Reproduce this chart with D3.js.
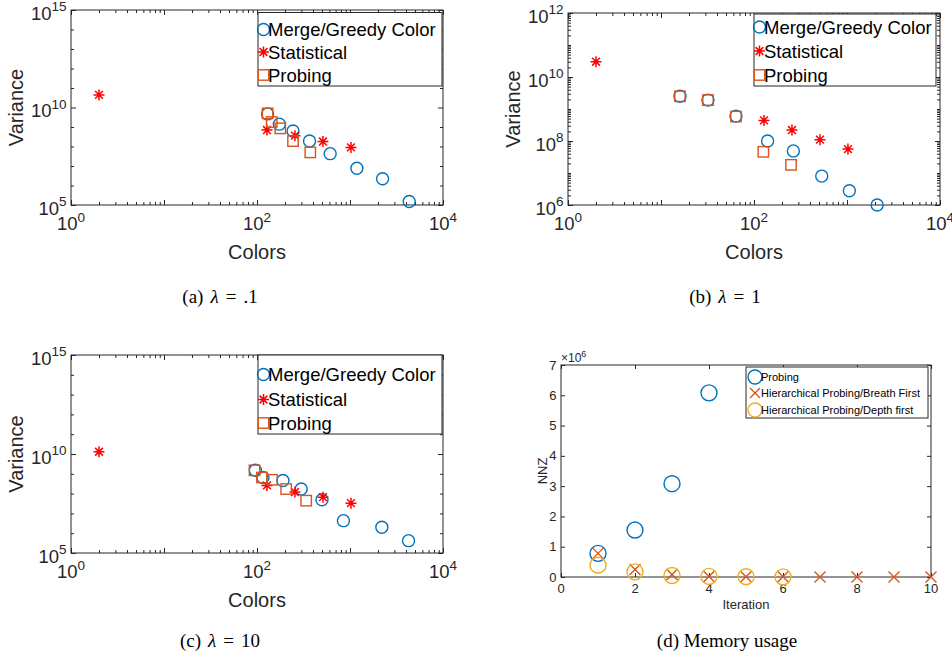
<!DOCTYPE html>
<html>
<head>
<meta charset="utf-8">
<script src="https://cdn.jsdelivr.net/npm/d3@7"></script>
<style>
  body { margin: 0; background: #fff; }
  svg { display: block; }
  text { font-family: "Liberation Sans", Arial, sans-serif; fill: #262626; }
  .cap { font-family: "Liberation Serif", "Times New Roman", serif; fill: #000; }
</style>
</head>
<body>
<svg id="fig" width="952" height="658"></svg>
<script>
// (a) lambda = .1
const colorsA_merge = [130, 174, 244, 367, 612, 1186, 2240, 4330];
const varA_merge = [4.7e9, 1.4e9, 6.2e8, 1.9e8, 4.3e7, 7.6e6, 2.2e6, 1.5e5];
const colorsA_stat = [2, 128, 256, 512, 1024];
const varA_stat = [4.4e10, 7e8, 3.6e8, 1.8e8, 9e7];
const colorsA_probe = [130, 144, 178, 244, 374];
const varA_probe = [5e9, 1.8e9, 8.5e8, 1.9e8, 5e7];

// (b) lambda = 1
const colorsB_merge = [16, 32, 64, 140, 265, 535, 1060, 2110];
const varB_merge = [2.5e9, 1.9e9, 6e8, 1e8, 4.9e7, 8e6, 2.8e6, 1e6];
const colorsB_stat = [2, 128, 256, 512, 1024];
const varB_stat = [3e10, 4.4e8, 2.2e8, 1.1e8, 5.6e7];
const colorsB_probe = [16, 32, 64, 126, 250];
const varB_probe = [2.5e9, 1.9e9, 5.8e8, 4.6e7, 1.8e7];

// (c) lambda = 10
const colorsC_merge = [96, 116, 190, 299, 500, 850, 2200, 4260];
const varC_merge = [1.5e9, 6.5e8, 4.6e8, 1.7e8, 4.9e7, 4.3e6, 2e6, 4.2e5];
const colorsC_stat = [2, 128, 256, 512, 1024];
const varC_stat = [1.3e10, 2.6e8, 1.2e8, 6.6e7, 3.3e7];
const colorsC_probe = [94, 113, 145, 206, 338];
const varC_probe = [1.5e9, 6.5e8, 5e8, 1.7e8, 4.4e7];

// (d) memory usage
const iterProbing = [1, 2, 3, 4];
const nnzProbing = [0.78e6, 1.55e6, 3.08e6, 6.08e6];
const iterBreadth = [1, 2, 3, 4, 5, 6, 7, 8, 9, 10];
const nnzBreadth = [0.78e6, 0.25e6, 0.08e6, 0.02e6, 0.01e6, 0.005e6, 0, 0, 0, 0];
const iterDepth = [1, 2, 3, 4, 5, 6];
const nnzDepth = [0.39e6, 0.17e6, 0.05e6, 0.02e6, 0.01e6, 0.005e6];

const logLegend = ['Merge/Greedy Color', 'Statistical', 'Probing'];
const memLegend = ['Probing', 'Hierarchical Probing/Breath First', 'Hierarchical Probing/Depth first'];
const xExpLabels = [0, 2, 4];

const AXIS = '#262626';
const BLUE = '#0072BD';
const ORANGE = '#D95319';
const YELLOW = '#EDB120';
const RED = '#FF0000';

const svg = d3.select('#fig');

const drawMarker = (g, type, cx, cy, color, size) => {
  if (type === 'circle') {
    g.append('circle').attr('cx', cx).attr('cy', cy).attr('r', size)
      .attr('fill', 'none').attr('stroke', color).attr('stroke-width', 1.4);
  } else if (type === 'square') {
    g.append('rect').attr('x', cx - size).attr('y', cy - size)
      .attr('width', size * 2).attr('height', size * 2)
      .attr('fill', 'none').attr('stroke', color).attr('stroke-width', 1.4);
  } else if (type === 'star') {
    const d = size * Math.SQRT1_2;
    g.append('path')
      .attr('d', `M${cx - size},${cy}H${cx + size}M${cx},${cy - size}V${cy + size}` +
        `M${cx - d},${cy - d}L${cx + d},${cy + d}M${cx - d},${cy + d}L${cx + d},${cy - d}`)
      .attr('stroke', color).attr('stroke-width', 1.5).attr('fill', 'none');
  } else if (type === 'x') {
    g.append('path')
      .attr('d', `M${cx - size},${cy - size}L${cx + size},${cy + size}M${cx - size},${cy + size}L${cx + size},${cy - size}`)
      .attr('stroke', color).attr('stroke-width', 1.4).attr('fill', 'none');
  }
};

const tickAxis = (g, axisFn, scale, values, size, transform) => {
  g.append('g')
    .attr('transform', transform)
    .call(axisFn(scale).tickValues(values).tickSize(size).tickSizeOuter(0).tickFormat(''))
    .call(a => a.select('.domain').remove())
    .selectAll('line').attr('stroke', AXIS);
};

const subDecades = (lo, hi) => {
  const out = [];
  for (let e = lo; e < hi; e++) {
    for (let k = 2; k <= 9; k++) out.push(k * Math.pow(10, e));
  }
  return out;
};

const caption = (x, y, parts) => {
  const cap = svg.append('text').attr('class', 'cap').attr('x', x).attr('y', y)
    .attr('text-anchor', 'middle').style('font-size', '19px');
  parts.forEach((p, i) => {
    cap.append('tspan').attr('dx', i ? 7 : 0).style('font-style', p === 'λ' ? 'italic' : 'normal').text(p);
  });
};

function drawLogPanel(p) {
  const { l, r, t, b } = p.box;
  const x = d3.scaleLog().domain([1, 1e4]).range([l, r]);
  const y = d3.scaleLog().domain([Math.pow(10, p.yExp[0]), Math.pow(10, p.yExp[1])]).range([b, t]);
  const g = svg.append('g');

  const xMajor = d3.range(0, 5).map(e => Math.pow(10, e));
  const xMinor = subDecades(0, 4);
  const yDec = d3.range(p.yExp[0], p.yExp[1] + 1).map(e => Math.pow(10, e));
  const yMajor = p.yLabels.map(e => Math.pow(10, e));
  const yMinor = yDec.filter(v => !yMajor.includes(v)).concat(p.ySub ? subDecades(p.yExp[0], p.yExp[1]) : []);

  tickAxis(g, d3.axisBottom, x, xMajor, -5, `translate(0,${b})`);
  tickAxis(g, d3.axisBottom, x, xMinor, -3, `translate(0,${b})`);
  tickAxis(g, d3.axisTop, x, xMajor, -5, `translate(0,${t})`);
  tickAxis(g, d3.axisTop, x, xMinor, -3, `translate(0,${t})`);
  tickAxis(g, d3.axisLeft, y, yMajor, -5, `translate(${l},0)`);
  tickAxis(g, d3.axisLeft, y, yMinor, -3, `translate(${l},0)`);
  tickAxis(g, d3.axisRight, y, yMajor, -5, `translate(${r},0)`);
  tickAxis(g, d3.axisRight, y, yMinor, -3, `translate(${r},0)`);

  g.append('rect').attr('x', l).attr('y', t).attr('width', r - l).attr('height', b - t)
    .attr('fill', 'none').attr('stroke', AXIS).attr('stroke-width', 1);

  xExpLabels.forEach(e => {
    const tx = g.append('text').attr('x', x(Math.pow(10, e))).attr('y', b + 25)
      .attr('text-anchor', 'middle').style('font-size', '18.5px').text('10');
    tx.append('tspan').attr('dy', -8.5).style('font-size', '13.5px').text(e);
  });
  p.yLabels.forEach(e => {
    const ty = g.append('text').attr('x', l - 4.5).attr('y', y(Math.pow(10, e)) + 9.5)
      .attr('text-anchor', 'end').style('font-size', '18.5px').text('10');
    ty.append('tspan').attr('dy', -8.5).style('font-size', '13.5px').text(e);
  });

  g.append('text').attr('x', (l + r) / 2).attr('y', b + 54)
    .attr('text-anchor', 'middle').style('font-size', '20px').text('Colors');
  g.append('text').attr('transform', `translate(${l - 48},${(t + b) / 2}) rotate(-90)`)
    .attr('text-anchor', 'middle').style('font-size', '20px').text('Variance');

  const pts = g.append('g');
  p.series.forEach(s => {
    s.xs.forEach((v, i) => drawMarker(pts, s.marker, x(v), y(s.ys[i]), s.color, s.size));
  });

  const lg = p.legend;
  g.append('rect').attr('x', lg.x0).attr('y', lg.y0).attr('width', lg.x1 - lg.x0).attr('height', lg.y1 - lg.y0)
    .attr('fill', '#fff').attr('stroke', AXIS).attr('stroke-width', 1);
  p.series.forEach((s, i) => {
    drawMarker(g, s.marker, lg.x0 + 5.5, lg.rows[i], s.color, s.size);
    g.append('text').attr('x', lg.x0 + 10).attr('y', lg.rows[i] + 6.5)
      .style('font-size', '18.5px').style('fill', '#000').text(logLegend[i]);
  });

  caption(p.caption.x, p.caption.y, [p.caption.tag, 'λ', '=', p.caption.val]);
}

drawLogPanel({
  box: { l: 71, r: 443, t: 10, b: 205 },
  yExp: [5, 15], yLabels: [5, 10, 15], ySub: false,
  legend: { x0: 258, x1: 442, y0: 12.5, y1: 86, rows: [29.5, 52, 75] },
  caption: { x: 220, y: 303, tag: '(a)', val: '.1' },
  series: [
    { xs: colorsA_merge, ys: varA_merge, marker: 'circle', color: BLUE, size: 6 },
    { xs: colorsA_stat, ys: varA_stat, marker: 'star', color: RED, size: 5.5 },
    { xs: colorsA_probe, ys: varA_probe, marker: 'square', color: ORANGE, size: 5.2 }
  ]
});

drawLogPanel({
  box: { l: 568, r: 940, t: 13, b: 205 },
  yExp: [6, 12], yLabels: [6, 8, 10, 12], ySub: true,
  legend: { x0: 754, x1: 936, y0: 14, y1: 86, rows: [27, 51, 75] },
  caption: { x: 725, y: 303, tag: '(b)', val: '1' },
  series: [
    { xs: colorsB_merge, ys: varB_merge, marker: 'circle', color: BLUE, size: 6 },
    { xs: colorsB_stat, ys: varB_stat, marker: 'star', color: RED, size: 5.5 },
    { xs: colorsB_probe, ys: varB_probe, marker: 'square', color: ORANGE, size: 5.2 }
  ]
});

drawLogPanel({
  box: { l: 71, r: 443, t: 355, b: 553 },
  yExp: [5, 15], yLabels: [5, 10, 15], ySub: false,
  legend: { x0: 258, x1: 442, y0: 355, y1: 434, rows: [374.5, 399.5, 423] },
  caption: { x: 220, y: 647, tag: '(c)', val: '10' },
  series: [
    { xs: colorsC_merge, ys: varC_merge, marker: 'circle', color: BLUE, size: 6 },
    { xs: colorsC_stat, ys: varC_stat, marker: 'star', color: RED, size: 5.5 },
    { xs: colorsC_probe, ys: varC_probe, marker: 'square', color: ORANGE, size: 5.2 }
  ]
});

// (d) linear panel
(() => {
  const l = 561, r = 931, t = 365, b = 577;
  const x = d3.scaleLinear().domain([0, 10]).range([l, r]);
  const y = d3.scaleLinear().domain([0, 7e6]).range([b, t]);
  const g = svg.append('g');
  const xt = d3.range(0, 11, 2);
  const yt = d3.range(0, 8).map(v => v * 1e6);

  tickAxis(g, d3.axisBottom, x, xt, -4, `translate(0,${b})`);
  tickAxis(g, d3.axisTop, x, xt, -4, `translate(0,${t})`);
  tickAxis(g, d3.axisLeft, y, yt, -4, `translate(${l},0)`);
  tickAxis(g, d3.axisRight, y, yt, -4, `translate(${r},0)`);
  g.append('rect').attr('x', l).attr('y', t).attr('width', r - l).attr('height', b - t)
    .attr('fill', 'none').attr('stroke', AXIS).attr('stroke-width', 1);

  xt.forEach(v => g.append('text').attr('x', x(v)).attr('y', b + 16)
    .attr('text-anchor', 'middle').style('font-size', '13px').text(v));
  yt.forEach(v => g.append('text').attr('x', l - 4.5).attr('y', y(v) + 4.5)
    .attr('text-anchor', 'end').style('font-size', '13px').text(v / 1e6));
  const mult = g.append('text').attr('x', l).attr('y', t - 3).style('font-size', '12px').text('×10');
  mult.append('tspan').attr('dy', -5).style('font-size', '9px').text('6');

  g.append('text').attr('x', (l + r) / 2).attr('y', b + 32)
    .attr('text-anchor', 'middle').style('font-size', '13px').text('Iteration');
  g.append('text').attr('transform', `translate(${l - 14},${(t + b) / 2}) rotate(-90)`)
    .attr('text-anchor', 'middle').style('font-size', '13px').text('NNZ');

  const series = [
    { xs: iterProbing, ys: nnzProbing, marker: 'circle', color: BLUE, size: 8 },
    { xs: iterBreadth, ys: nnzBreadth, marker: 'x', color: ORANGE, size: 5.5 },
    { xs: iterDepth, ys: nnzDepth, marker: 'circle', color: YELLOW, size: 8 }
  ];
  series.forEach(s => s.xs.forEach((v, i) => drawMarker(g, s.marker, x(v), y(s.ys[i]), s.color, s.size)));

  const lx0 = 746, lx1 = 928, ly0 = 367, ly1 = 418;
  const rows = [377, 393, 410];
  g.append('rect').attr('x', lx0).attr('y', ly0).attr('width', lx1 - lx0).attr('height', ly1 - ly0)
    .attr('fill', '#fff').attr('stroke', AXIS).attr('stroke-width', 1);
  series.forEach((s, i) => {
    drawMarker(g, s.marker, lx0 + 9, rows[i], s.color, s.marker === 'circle' ? 7 : 5);
    g.append('text').attr('x', lx0 + 15).attr('y', rows[i] + 4)
      .style('font-size', '11px').style('fill', '#000').text(memLegend[i]);
  });

  svg.append('text').attr('class', 'cap').attr('x', 727).attr('y', 647)
    .attr('text-anchor', 'middle').style('font-size', '19px').text('(d) Memory usage');
})();
</script>
</body>
</html>
